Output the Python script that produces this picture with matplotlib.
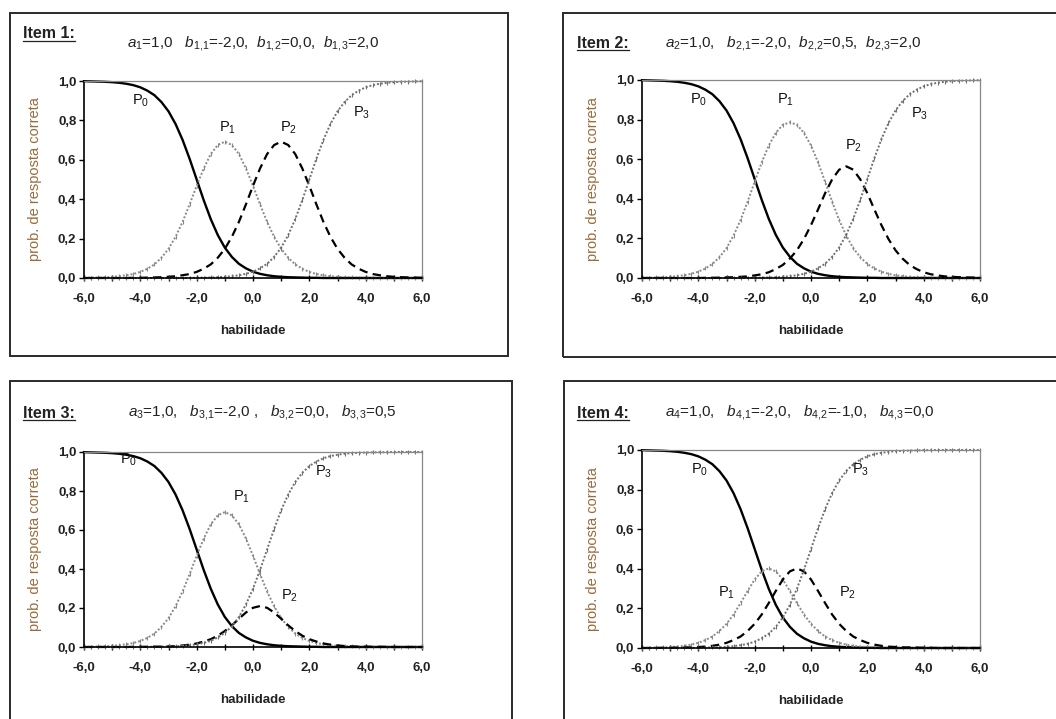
import matplotlib
matplotlib.use('Agg')
import matplotlib.pyplot as plt
from matplotlib.patches import Rectangle
from matplotlib.lines import Line2D
from matplotlib.ticker import MultipleLocator, FuncFormatter

plt.rcParams['font.family'] = ['Liberation Sans', 'DejaVu Sans']
plt.rcParams['mathtext.fontset'] = 'custom'
plt.rcParams['mathtext.rm'] = 'Liberation Sans'
plt.rcParams['mathtext.it'] = 'Liberation Sans:italic'
plt.rcParams['mathtext.bf'] = 'Liberation Sans:bold'

# ability grid (x axis)
theta = [-6.0, -5.75, -5.5, -5.25, -5.0, -4.75, -4.5, -4.25,
         -4.0, -3.75, -3.5, -3.25, -3.0, -2.75, -2.5, -2.25,
         -2.0, -1.75, -1.5, -1.25, -1.0, -0.75, -0.5, -0.25,
         0.0, 0.25, 0.5, 0.75, 1.0, 1.25, 1.5, 1.75,
         2.0, 2.25, 2.5, 2.75, 3.0, 3.25, 3.5, 3.75,
         4.0, 4.25, 4.5, 4.75, 5.0, 5.25, 5.5, 5.75,
         6.0]

# category probabilities
p0_all = [0.999, 0.998, 0.997, 0.996, 0.994, 0.991, 0.986, 0.979,
          0.968, 0.951, 0.928, 0.893, 0.846, 0.782, 0.701, 0.605,
          0.500, 0.395, 0.299, 0.218, 0.154, 0.107, 0.072, 0.049,
          0.032, 0.021, 0.014, 0.009, 0.006, 0.004, 0.003, 0.002,
          0.001, 0.001, 0.000, 0.000, 0.000, 0.000, 0.000, 0.000,
          0.000, 0.000, 0.000, 0.000, 0.000, 0.000, 0.000, 0.000,
          0.000]

item1_p1 = [0.001, 0.002, 0.003, 0.004, 0.006, 0.009, 0.014, 0.020,
            0.031, 0.047, 0.069, 0.103, 0.148, 0.209, 0.285, 0.374,
            0.468, 0.556, 0.629, 0.675, 0.692, 0.675, 0.629, 0.556,
            0.468, 0.374, 0.285, 0.209, 0.148, 0.103, 0.069, 0.047,
            0.031, 0.020, 0.014, 0.009, 0.006, 0.004, 0.003, 0.002,
            0.001, 0.001, 0.000, 0.000, 0.000, 0.000, 0.000, 0.000,
            0.000]
item1_p2 = [0.000, 0.000, 0.000, 0.000, 0.000, 0.000, 0.000, 0.001,
            0.001, 0.002, 0.003, 0.004, 0.006, 0.009, 0.014, 0.020,
            0.031, 0.047, 0.069, 0.103, 0.148, 0.209, 0.285, 0.374,
            0.468, 0.556, 0.629, 0.675, 0.692, 0.675, 0.629, 0.556,
            0.468, 0.374, 0.285, 0.209, 0.148, 0.103, 0.069, 0.047,
            0.031, 0.020, 0.014, 0.009, 0.006, 0.004, 0.003, 0.002,
            0.001]
item1_p3 = [0.000, 0.000, 0.000, 0.000, 0.000, 0.000, 0.000, 0.000,
            0.000, 0.000, 0.000, 0.000, 0.000, 0.000, 0.000, 0.001,
            0.001, 0.002, 0.003, 0.004, 0.006, 0.009, 0.014, 0.021,
            0.032, 0.049, 0.072, 0.107, 0.154, 0.218, 0.299, 0.395,
            0.500, 0.605, 0.701, 0.782, 0.846, 0.893, 0.928, 0.951,
            0.968, 0.979, 0.986, 0.991, 0.994, 0.996, 0.997, 0.998,
            0.999]

item2_p1 = [0.001, 0.002, 0.003, 0.004, 0.006, 0.009, 0.014, 0.021,
            0.032, 0.048, 0.071, 0.105, 0.151, 0.214, 0.293, 0.386,
            0.486, 0.584, 0.669, 0.733, 0.774, 0.786, 0.774, 0.733,
            0.669, 0.584, 0.486, 0.386, 0.293, 0.214, 0.151, 0.105,
            0.071, 0.048, 0.032, 0.021, 0.014, 0.009, 0.006, 0.004,
            0.003, 0.002, 0.001, 0.001, 0.000, 0.000, 0.000, 0.000,
            0.000]
item2_p2 = [0.000, 0.000, 0.000, 0.000, 0.000, 0.000, 0.000, 0.000,
            0.000, 0.001, 0.001, 0.002, 0.003, 0.004, 0.006, 0.008,
            0.013, 0.019, 0.029, 0.045, 0.066, 0.098, 0.140, 0.197,
            0.267, 0.346, 0.428, 0.498, 0.547, 0.564, 0.547, 0.498,
            0.428, 0.346, 0.267, 0.197, 0.140, 0.098, 0.066, 0.045,
            0.029, 0.019, 0.013, 0.008, 0.006, 0.004, 0.003, 0.002,
            0.001]
item2_p3 = item1_p3

item3_p1 = item1_p1
item3_p2 = [0.000, 0.000, 0.000, 0.000, 0.000, 0.000, 0.000, 0.001,
            0.001, 0.001, 0.002, 0.002, 0.003, 0.005, 0.008, 0.012,
            0.018, 0.028, 0.040, 0.058, 0.082, 0.111, 0.145, 0.177,
            0.201, 0.210, 0.201, 0.177, 0.145, 0.111, 0.082, 0.058,
            0.040, 0.028, 0.018, 0.012, 0.008, 0.005, 0.003, 0.002,
            0.002, 0.001, 0.001, 0.001, 0.000, 0.000, 0.000, 0.000,
            0.000]
item3_p3 = [0.000, 0.000, 0.000, 0.000, 0.000, 0.000, 0.000, 0.000,
            0.000, 0.001, 0.001, 0.002, 0.003, 0.004, 0.006, 0.009,
            0.014, 0.021, 0.032, 0.049, 0.072, 0.107, 0.154, 0.218,
            0.299, 0.395, 0.500, 0.605, 0.701, 0.782, 0.846, 0.893,
            0.928, 0.951, 0.968, 0.979, 0.986, 0.991, 0.994, 0.996,
            0.997, 0.998, 0.999, 0.999, 1.000, 1.000, 1.000, 1.000,
            1.000]

item4_p1 = [0.001, 0.002, 0.003, 0.003, 0.005, 0.007, 0.011, 0.017,
            0.026, 0.040, 0.058, 0.086, 0.122, 0.169, 0.227, 0.288,
            0.346, 0.387, 0.402, 0.387, 0.346, 0.288, 0.227, 0.169,
            0.122, 0.086, 0.058, 0.040, 0.026, 0.017, 0.011, 0.007,
            0.005, 0.003, 0.003, 0.002, 0.001, 0.001, 0.000, 0.000,
            0.000, 0.000, 0.000, 0.000, 0.000, 0.000, 0.000, 0.000,
            0.000]
item4_p2 = [0.000, 0.000, 0.000, 0.001, 0.001, 0.002, 0.003, 0.003,
            0.005, 0.007, 0.011, 0.017, 0.026, 0.040, 0.058, 0.086,
            0.122, 0.169, 0.227, 0.288, 0.346, 0.387, 0.402, 0.387,
            0.346, 0.288, 0.227, 0.169, 0.122, 0.086, 0.058, 0.040,
            0.026, 0.017, 0.011, 0.007, 0.005, 0.003, 0.003, 0.002,
            0.001, 0.001, 0.000, 0.000, 0.000, 0.000, 0.000, 0.000,
            0.000]
item4_p3 = [0.000, 0.000, 0.000, 0.000, 0.000, 0.000, 0.000, 0.001,
            0.001, 0.002, 0.003, 0.004, 0.006, 0.009, 0.014, 0.021,
            0.032, 0.049, 0.072, 0.107, 0.154, 0.218, 0.299, 0.395,
            0.500, 0.605, 0.701, 0.782, 0.846, 0.893, 0.928, 0.951,
            0.968, 0.979, 0.986, 0.991, 0.994, 0.996, 0.997, 0.998,
            0.999, 0.999, 1.000, 1.000, 1.000, 1.000, 1.000, 1.000,
            1.000]

titles = ['Item 1:', 'Item 2:', 'Item 3:', 'Item 4:']
params = [r'$a_{1}$=1,0   $b_{1,\!1}$=-2,0,  $b_{1,\!2}$=0,0,  $b_{1,\!3}$=2,0',
          r'$a_{2}$=1,0,   $b_{2,\!1}$=-2,0,  $b_{2,\!2}$=0,5,  $b_{2,\!3}$=2,0',
          r'$a_{3}$=1,0,   $b_{3,\!1}$=-2,0 ,   $b_{3,\!2}$=0,0,   $b_{3,\!3}$=0,5',
          r'$a_{4}$=1,0,   $b_{4,\!1}$=-2,0,   $b_{4,\!2}$=-1,0,   $b_{4,\!3}$=0,0']
curves = [[p0_all, item1_p1, item1_p2, item1_p3],
          [p0_all, item2_p1, item2_p2, item2_p3],
          [p0_all, item3_p1, item3_p2, item3_p3],
          [p0_all, item4_p1, item4_p2, item4_p3]]
curve_names = ['P$_0$', 'P$_1$', 'P$_2$', 'P$_3$']

W, H = 1056, 719
fig = plt.figure(figsize=(W / 100, H / 100), dpi=100)


def fx(px):
    return px / W


def fy(py):
    return 1 - py / H


# layout in pixels: frame box, plot area, title / params anchors, label spots (data coords)
layout = [
    dict(frame=(10, 13, 508, 356), axes=(84, 81, 422, 278), title=(23, 34), par=(127, 43),
         spots=[(-4.0, 0.90), (-0.9, 0.76), (1.25, 0.76), (3.85, 0.84)]),
    dict(frame=(563, 13, 1070, 357), axes=(642, 80, 980, 278), title=(577, 43), par=(665, 43),
         spots=[(-4.0, 0.90), (-0.9, 0.90), (1.5, 0.67), (3.85, 0.83)]),
    dict(frame=(10, 381, 512, 730), axes=(84, 452, 422, 647), title=(23, 413), par=(128, 413),
         spots=[(-4.4, 0.96), (-0.4, 0.77), (1.3, 0.26), (2.5, 0.90)]),
    dict(frame=(564, 381, 1070, 730), axes=(642, 450, 980, 648), title=(577, 413), par=(665, 413),
         spots=[(-3.95, 0.90), (-3.0, 0.28), (1.3, 0.28), (1.75, 0.90)]),
]

styles = [dict(color='black', lw=1.7, ls='-'),
          dict(color='#8a8a8a', lw=1.4, ls=(0, (1, 1)), marker='|', ms=2.5, mew=0.8),
          dict(color='black', lw=1.6, ls=(0, (3.8, 2.4))),
          dict(color='#707070', lw=1.4, ls=(0, (1, 1)), marker='|', ms=2.5, mew=0.8)]

comma = FuncFormatter(lambda v, pos: f'{v:.1f}'.replace('.', ','))

title_texts = []
for k, lay in enumerate(layout):
    x0, y0, x1, y1 = lay['frame']
    fig.add_artist(Rectangle((fx(x0), fy(y1)), (x1 - x0) / W, (y1 - y0) / H,
                             transform=fig.transFigure, fill=False, lw=1.4, ec='#2a2a2a'))
    l, t, r, b = lay['axes']
    ax = fig.add_axes([fx(l), fy(b), (r - l) / W, (b - t) / H])

    for ys, st, name, spot in zip(curves[k], styles, curve_names, lay['spots']):
        ax.plot(theta, ys, clip_on=False, **st)
        ax.text(spot[0], spot[1], name, fontsize=10.5, color='#111111', ha='center', va='center')

    ax.set_xlim(-6, 6)
    ax.set_ylim(0, 1)
    ax.xaxis.set_major_locator(MultipleLocator(2))
    ax.xaxis.set_minor_locator(MultipleLocator(1))
    ax.yaxis.set_major_locator(MultipleLocator(0.2))
    ax.xaxis.set_major_formatter(comma)
    ax.yaxis.set_major_formatter(comma)
    ax.tick_params(axis='x', which='both', direction='inout', length=5, width=1, pad=8,
                   labelsize=9.5, labelcolor='#222222')
    ax.tick_params(axis='y', direction='out', length=3.5, width=1, pad=2,
                   labelsize=9.5, labelcolor='#222222')
    for lab in ax.get_xticklabels() + ax.get_yticklabels():
        lab.set_fontweight('bold')
    for side in ['top', 'right']:
        ax.spines[side].set_color('#888888')
        ax.spines[side].set_linewidth(0.9)
    for side in ['left', 'bottom']:
        ax.spines[side].set_color('black')
        ax.spines[side].set_linewidth(1.2)

    ax.set_xlabel('habilidade', fontsize=9.5, fontweight='bold', color='#222222')
    ax.xaxis.set_label_coords(0.5, -(325 - 278) / 197)
    ax.set_ylabel('prob. de resposta correta', fontsize=10.5, color='#9a6b3c')
    ax.yaxis.set_label_coords(-(84 - 42) / 338, 0.5)

    tt = fig.text(fx(lay['title'][0]), fy(lay['title'][1]), titles[k], fontsize=11.5,
                  fontweight='bold', color='#222222', ha='left', va='center')
    title_texts.append(tt)
    fig.text(fx(lay['par'][0]), fy(lay['par'][1]), params[k], fontsize=11,
             color='#222222', ha='left', va='center')

# underline the item titles
fig.canvas.draw()
renderer = fig.canvas.get_renderer()
for tt in title_texts:
    bb = tt.get_window_extent(renderer)
    fig.add_artist(Line2D([bb.x0 / W, bb.x1 / W], [(bb.y0 + 1) / H, (bb.y0 + 1) / H],
                          transform=fig.transFigure, color='#222222', lw=0.9))

fig.savefig('out.png', dpi=100)
